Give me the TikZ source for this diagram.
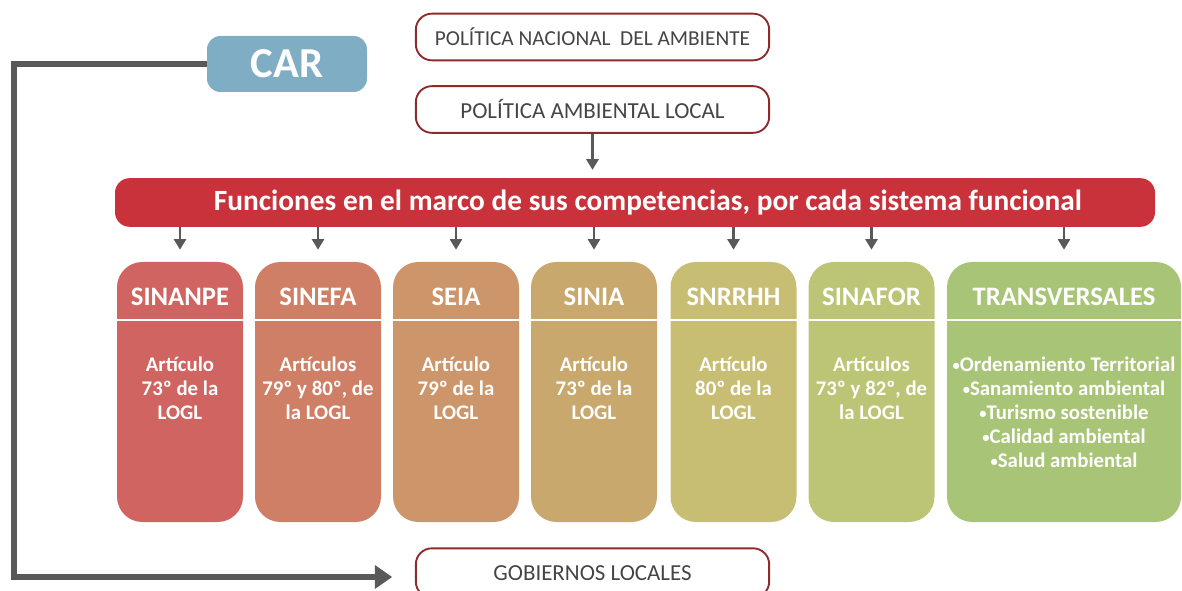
\documentclass[tikz,border=0pt]{standalone}
\usepackage{fontspec}
\setmainfont{Carlito}
\usepackage{xcolor}
\usetikzlibrary{arrows.meta}
\definecolor{borde}{HTML}{8E2A2A}
\definecolor{gristexto}{HTML}{454545}
\definecolor{grisflecha}{HTML}{595959}
\definecolor{rojobarra}{HTML}{C9323A}
\definecolor{azulcar}{HTML}{7FAEC4}
\definecolor{csinanpe}{HTML}{D06460}
\definecolor{csinefa}{HTML}{CE7F65}
\definecolor{cseia}{HTML}{CD956A}
\definecolor{csinia}{HTML}{C9A86D}
\definecolor{csnrrhh}{HTML}{C8BE73}
\definecolor{csinafor}{HTML}{BCC575}
\definecolor{ctransv}{HTML}{A8C577}
\newcommand{\vineta}{{\fontsize{11}{11}\selectfont\raisebox{0.25ex}{•}}}

\begin{document}
\begin{tikzpicture}[x=0.75pt,y=-0.75pt,
    politica/.style={draw=borde,line width=1.4pt,rounded corners=12pt,fill=white,
        minimum width=265pt,minimum height=35pt,text=gristexto,font=\fontsize{17.2}{20}\selectfont},
    columna/.style={fill=#1,rounded corners=19pt,minimum width=94.5pt,minimum height=195pt,inner sep=0pt},
    titulo/.style={text=white,font=\bfseries\fontsize{20}{24}\selectfont},
    cuerpo/.style={text=white,align=center,anchor=north,inner sep=0pt,font=\bfseries\fontsize{15.6}{18}\selectfont},
    flecha/.style={-{Triangle[length=8pt,width=9pt]},line width=2pt,draw=grisflecha}]
\useasboundingbox (0,0) rectangle (1182,591);
        % Politicas
        \node[politica,font=\fontsize{16}{19}\selectfont] (nacional) at (592.5,37) {POLÍTICA NACIONAL\ \ DEL AMBIENTE};
        \node[politica] (local) at (592.5,109.5) {POLÍTICA AMBIENTAL LOCAL};
        \node[politica,minimum height=37pt] (gobiernos) at (592.5,573) {GOBIERNOS LOCALES};
        % CAR
        \node[fill=azulcar,rounded corners=10pt,minimum width=120pt,minimum height=42pt,
            text=white,font=\bfseries\fontsize{32}{36}\selectfont] (car) at (287,64) {CAR};
        % Barra
        \node[fill=rojobarra,rounded corners=11pt,minimum width=780pt,minimum height=36.5pt,
            text=white,font=\bfseries\fontsize{22}{26}\selectfont] (funciones) at (635,202.5)
            {\hspace*{19.5pt}Funciones en el marco de sus competencias, por cada sistema funcional};
        % Sistemas funcionales
        \foreach \nom/\x/\col/\tit/\txt in {
            sinanpe/180/csinanpe/SINANPE/{Artículo\\73º de la\\LOGL},
            sinefa/318/csinefa/SINEFA/{Artículos\\79º y 80º, de\\la LOGL},
            seia/456/cseia/SEIA/{Artículo\\79º de la\\LOGL},
            sinia/594/csinia/SINIA/{Artículo\\73º de la\\LOGL},
            snrrhh/733.5/csnrrhh/SNRRHH/{Artículo\\80º de la\\LOGL},
            sinafor/871.5/csinafor/SINAFOR/{Artículos\\73º y 82º, de\\la LOGL}}{
            \node[columna=\col] (\nom) at (\x,392) {};
            \node[titulo] at (\x,297) {\tit};
            \node[cuerpo] at (\x,357) {\txt};
            \draw[flecha,shorten >=9pt] (funciones.south -| \nom) -- (\nom.north);
        }
        \node[columna=ctransv,minimum width=175.5pt] (transv) at (1064,392) {};
        \node[titulo] at (1064,297) {TRANSVERSALES};
        \node[cuerpo] at (1064,357) {\vineta Ordenamiento Territorial\\\vineta Sanamiento ambiental\\\vineta Turismo sostenible\\\vineta Calidad ambiental\\\vineta Salud ambiental};
        \draw[flecha,shorten >=9pt] (funciones.south -| transv) -- (transv.north);
        % Separador
        \draw[white,line width=2.2pt] (110,320) -- (1182,320);
        % Conectores
        \draw[flecha,shorten >=6pt] (local.south) -- (local.south |- funciones.north);
        \coordinate (esquina) at (14,577);
        \draw[-{Triangle[length=13pt,width=17pt]},line width=3.8pt,draw=grisflecha,shorten >=17pt]
            (car.west) -| (esquina) -- (gobiernos.west |- esquina);
\end{tikzpicture}
\end{document}
